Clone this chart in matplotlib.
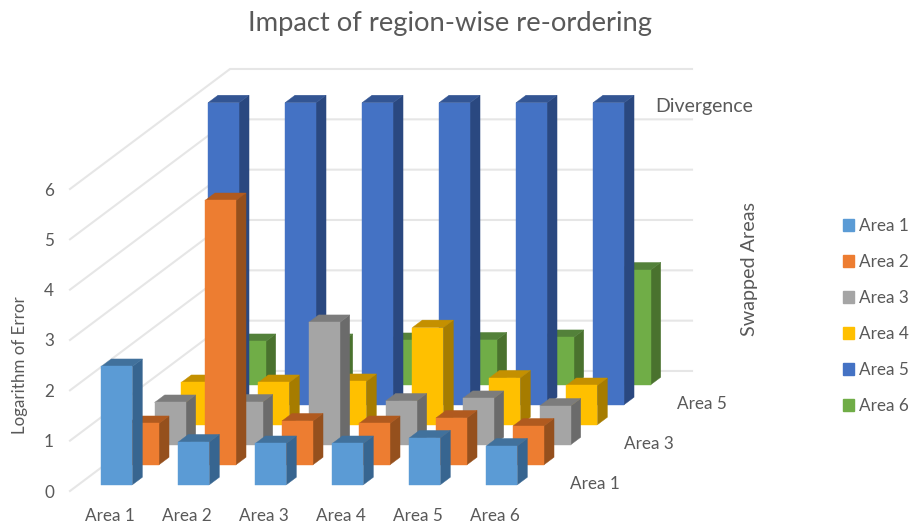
import matplotlib; matplotlib.use("Agg"); import matplotlib.pyplot as plt
from matplotlib.patches import Patch
plt.rcParams.update({"font.family":"Lato","font.size":12.3,"text.color":"#595959"})
cats=["Area 1","Area 2","Area 3","Area 4","Area 5","Area 6"]
area1=[2.35,0.85,0.82,0.82,0.93,0.77]
area2=[0.82,5.25,0.87,0.82,0.93,0.77]
area3=[0.84,0.85,2.43,0.87,0.92,0.77]
area4=[0.84,0.84,0.86,1.93,0.93,0.78]
area5=[6,6,6,6,6,6]
area6=[0.86,0.86,0.88,0.89,0.94,2.28]
series=[area1,area2,area3,area4,area5,area6]
front=["#5B9BD5","#ED7D31","#A5A5A5","#FFC000","#4472C4","#70AD47"]
side=["#376590","#95501D","#6B6B6B","#A67C00","#2A4880","#4A722E"]
top=["#41719C","#B05A1F","#7C7C7C","#C49000","#335593","#53813A"]
depth_labels={0:"Area 1",2:"Area 3",4:"Area 5"}
GRID="#E6E6E6"
# oblique look of the excel chart: each row of depth moves right and up
SX,SY=26.67/77,20/50.33
W,D=0.403,0.375
def pr(x,d,z): return x+d*SX,z+d*SY
fig=plt.figure(figsize=(9.12,5.25),dpi=100)
ax=fig.add_axes([70/912,(525-491)/525,462/912,302/525])
ax.set_xlim(0,6); ax.set_ylim(0,6)
for s in ax.spines.values(): s.set_visible(False)
ax.set_xticks([i+.52 for i in range(6)],cats)
ax.set_yticks(range(7))
ax.tick_params(length=0,labelcolor="#595959",labelsize=12.3)
ax.tick_params(axis="x",pad=12); ax.tick_params(axis="y",pad=11.5)
# walls
for z in range(7):
    a,b=pr(0,0,z); c,e=pr(0,6,z); f,g=pr(6,6,z)
    ax.plot([a,c,f],[b,e,g],color=GRID,lw=1.5,clip_on=False,zorder=1,solid_joinstyle="miter")
def face(pts,col,zo):
    xy=[pr(*p) for p in pts]
    ax.fill([p[0] for p in xy],[p[1] for p in xy],facecolor=col,edgecolor=col,lw=.3,clip_on=False,zorder=zo)
# back row first so that the front ones overlap
zo=2
for r in range(5,-1,-1):
    d0=r+(1-D)/2; d1=d0+D
    for k,v in enumerate(series[r]):
        x0=k+(1-W)/2; x1=x0+W
        face([(x1,d0,0),(x1,d1,0),(x1,d1,v),(x1,d0,v)],side[r],zo)
        face([(x0,d0,v),(x1,d0,v),(x1,d1,v),(x0,d1,v)],top[r],zo)
        face([(x0,d0,0),(x1,d0,0),(x1,d0,v),(x0,d0,v)],front[r],zo)
        zo+=.01
for r,t in depth_labels.items():
    x,y=pr(6,r+.5,0)
    ax.annotate(t,(x,y),xytext=(25,-3),textcoords="offset pixels",va="center",ha="left",annotation_clip=False)
ax.annotate("Divergence",pr(6,4.5,6),xytext=(3,-8),textcoords="offset pixels",va="center",ha="left",annotation_clip=False,fontsize=14)
fig.text(450/912,1-23/525,"Impact of region-wise re-ordering",ha="center",va="center",fontsize=19.7)
fig.text(20/912,1-365/525,"Logarithm of Error",rotation=90,ha="center",va="center",fontsize=12.2)
fig.text(750/912,1-269/525,"Swapped Areas",rotation=90,ha="center",va="center",fontsize=14.2)
hs=[Patch(color=c,label=t) for c,t in zip(front,cats)]
fig.legend(handles=hs,loc="center left",bbox_to_anchor=(843/912,1-316/525),frameon=False,
    handlelength=.64,handleheight=.64,handletextpad=.3,labelspacing=1.17,borderpad=0,borderaxespad=0,fontsize=12.3)
fig.savefig("out.png",dpi=100)
